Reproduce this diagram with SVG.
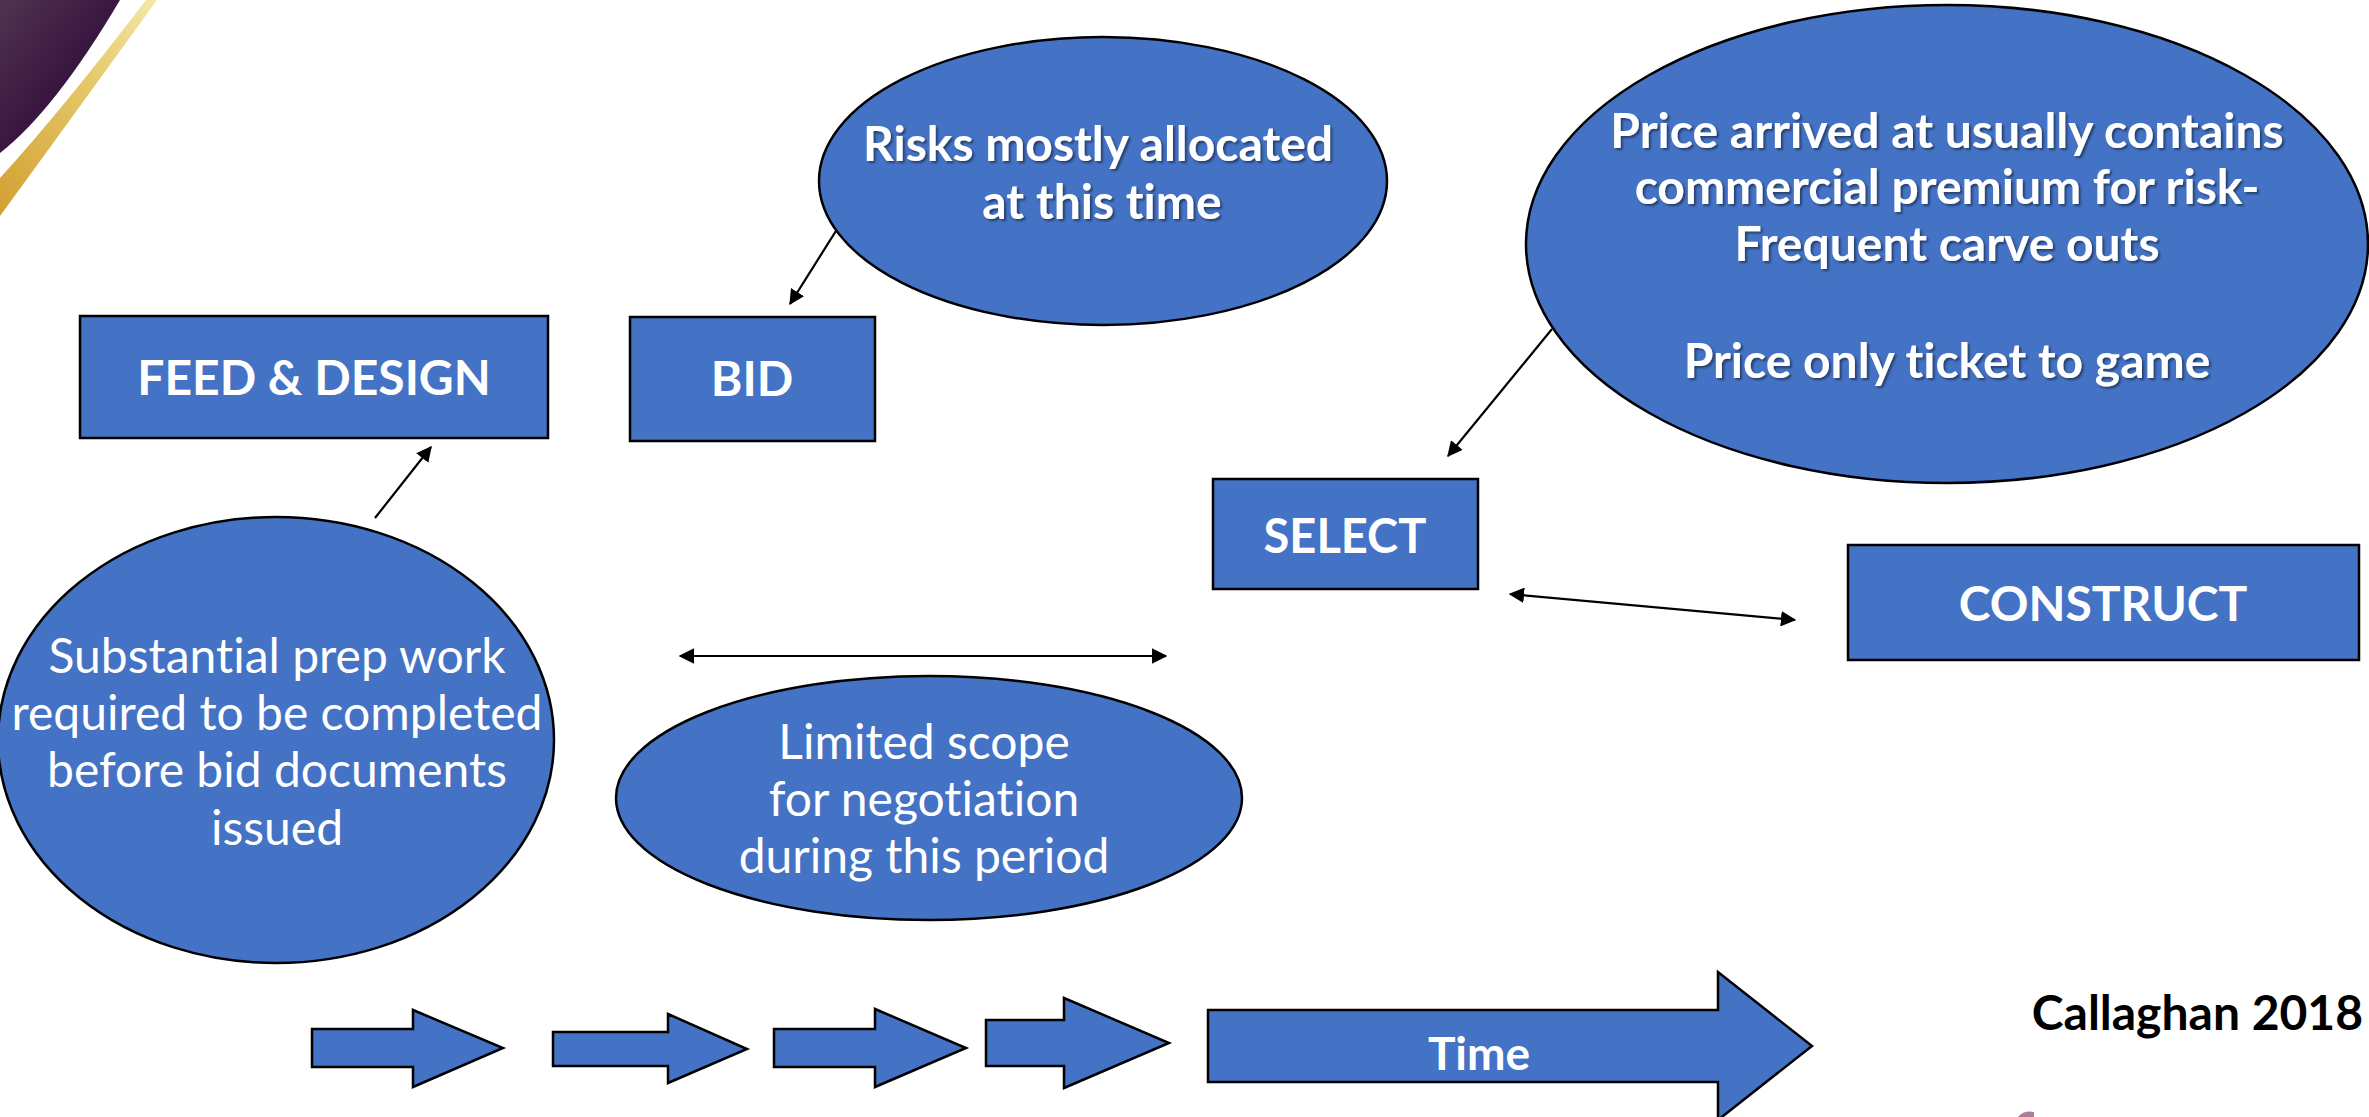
<svg xmlns="http://www.w3.org/2000/svg" width="2369" height="1117" viewBox="0 0 2369 1117">
<style>
text{font-variant-ligatures:none;font-feature-settings:"liga" 0,"dlig" 0}
.shape{fill:#4472C4;stroke:#000;stroke-width:2.5}
.lbl{fill:#fff;font-family:Lato,"Liberation Sans",sans-serif;font-weight:700;text-anchor:middle}
.txt{fill:#fff;font-family:Lato,"Liberation Sans",sans-serif;font-weight:400;text-anchor:middle}
.conn{stroke:#000;stroke-width:2.2;fill:none}
</style>
<defs>
<marker id="ah" viewBox="0 0 12 12" refX="11" refY="6" markerWidth="7" markerHeight="7" orient="auto-start-reverse" markerUnits="strokeWidth">
<path d="M0,0 L12,6 L0,12 Z" fill="#000"/>
</marker>
<linearGradient id="gold" x1="0" y1="1" x2="1" y2="0">
<stop offset="0" stop-color="#d2a032"/>
<stop offset="0.6" stop-color="#e6c86a"/>
<stop offset="1" stop-color="#f3e9a8"/>
</linearGradient>
<linearGradient id="purp" x1="0" y1="0" x2="1" y2="1">
<stop offset="0" stop-color="#503350"/>
<stop offset="0.5" stop-color="#3a1740"/>
<stop offset="1" stop-color="#2e0c34"/>
</linearGradient>
<filter id="sh" x="-5%" y="-20%" width="110%" height="140%">
<feDropShadow dx="2" dy="2" stdDeviation="1.2" flood-color="#000" flood-opacity="0.45"/>
</filter>
</defs>
<rect width="2369" height="1117" fill="#fff"/>
<g id="decoration">
<path d="M0,0 L120,0 Q55,110 0,153 Z" fill="url(#purp)"/>
<path d="M146,0 L157,0 Q70,120 0,216 L0,178 Q62,110 146,0 Z" fill="url(#gold)"/>
<path d="M2018,1117 Q2024,1110 2034,1112 L2034,1117 Z" fill="#b07a9a"/>
</g>
<g id="connectors">
<line class="conn" x1="851" y1="207" x2="790" y2="304" marker-end="url(#ah)"/>
<line class="conn" x1="1552" y1="329" x2="1448" y2="456" marker-end="url(#ah)"/>
<line class="conn" x1="375" y1="518" x2="431" y2="447" marker-end="url(#ah)"/>
<line class="conn" x1="680" y1="656" x2="1166" y2="656" marker-start="url(#ah)" marker-end="url(#ah)"/>
<line class="conn" x1="1510" y1="594" x2="1795" y2="620" marker-start="url(#ah)" marker-end="url(#ah)"/>
</g>
<g id="feed-design">
<rect class="shape" x="80" y="316" width="468" height="122"/>
<text class="lbl" x="314" y="395" font-size="48">FEED &amp; DESIGN</text>
</g>
<g id="bid">
<rect class="shape" x="630" y="317" width="245" height="124"/>
<text class="lbl" x="752" y="396" font-size="48">BID</text>
</g>
<g id="select">
<rect class="shape" x="1213" y="479" width="265" height="110"/>
<text class="lbl" x="1345" y="553" font-size="47">SELECT</text>
</g>
<g id="construct">
<rect class="shape" x="1848" y="545" width="511" height="115"/>
<text class="lbl" x="2103" y="621" font-size="48">CONSTRUCT</text>
</g>
<g id="risks">
<ellipse class="shape" cx="1103" cy="181" rx="284" ry="144"/>
<g filter="url(#sh)">
<text class="lbl" x="1098" y="161" font-size="48">Risks mostly allocated</text>
<text class="lbl" x="1102" y="219" font-size="48">at this time</text>
</g>
</g>
<g id="price">
<ellipse class="shape" cx="1947" cy="244" rx="421" ry="239"/>
<g filter="url(#sh)">
<text class="lbl" x="1947" y="148" font-size="48">Price arrived at usually contains</text>
<text class="lbl" x="1947" y="204" font-size="48">commercial premium for risk-</text>
<text class="lbl" x="1947" y="261" font-size="48">Frequent carve outs</text>
<text class="lbl" x="1947" y="378" font-size="48">Price only ticket to game</text>
</g>
</g>
<g id="substantial">
<ellipse class="shape" cx="276" cy="740" rx="278" ry="223"/>
<text class="txt" x="277" y="673" font-size="48">Substantial prep work</text>
<text class="txt" x="277" y="730" font-size="48">required to be completed</text>
<text class="txt" x="277" y="787" font-size="48">before bid documents</text>
<text class="txt" x="277" y="845" font-size="48">issued</text>
</g>
<g id="limited">
<ellipse class="shape" cx="929" cy="798" rx="313" ry="122"/>
<text class="txt" x="924" y="759" font-size="48">Limited scope</text>
<text class="txt" x="924" y="816" font-size="48">for negotiation</text>
<text class="txt" x="924" y="873" font-size="48">during this period</text>
</g>
<g id="arrow1"><path class="shape" d="M312,1029 L413,1029 L413,1010 L503,1048 L413,1087 L413,1067 L312,1067 Z"/></g>
<g id="arrow2"><path class="shape" d="M553,1032 L668,1032 L668,1014 L747,1049 L668,1083 L668,1066 L553,1066 Z"/></g>
<g id="arrow3"><path class="shape" d="M774,1029 L875,1029 L875,1009 L966,1048 L875,1087 L875,1067 L774,1067 Z"/></g>
<g id="arrow4"><path class="shape" d="M986,1020 L1064,1020 L1064,998 L1169,1043 L1064,1088 L1064,1066 L986,1066 Z"/></g>
<g id="time">
<path class="shape" d="M1208,1010 L1718,1010 L1718,972 L1812,1046 L1718,1120 L1718,1082 L1208,1082 Z"/>
<text class="lbl" x="1479" y="1070" font-size="46">Time</text>
</g>
<g id="citation">
<text x="2363" y="1030" font-family="Lato,'Liberation Sans',sans-serif" font-weight="700" font-size="48" text-anchor="end" fill="#000">Callaghan 2018</text>
</g>
</svg>
